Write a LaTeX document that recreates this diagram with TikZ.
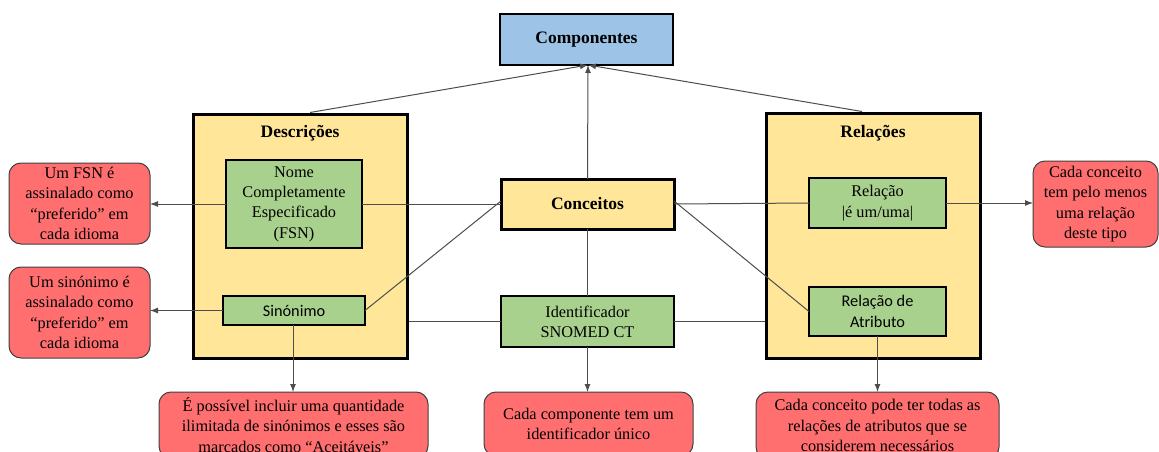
\documentclass[tikz,border=0pt]{standalone}
\usepackage{fontspec}
\setmainfont{Liberation Serif}
\newfontfamily\calibrilike{Carlito}
\usetikzlibrary{arrows.meta}
\definecolor{compblue}{HTML}{9DC3E6}
\definecolor{paleyellow}{HTML}{FFE699}
\definecolor{leafgreen}{HTML}{A9D18E}
\definecolor{notered}{HTML}{FF6F6F}
\definecolor{linkgray}{HTML}{4D4D4D}
\definecolor{noteedge}{HTML}{404040}
\tikzset{
  txt/.style={font=\fontsize{16.3}{20.3}\selectfont, align=center, inner sep=0pt, outer sep=0pt},
  hdr/.style={font=\fontsize{17.5}{21}\selectfont\bfseries, align=center, inner sep=0pt},
  groupbox/.style={draw=black, line width=3pt, fill=paleyellow, inner sep=0pt},
  conceptbox/.style={txt, draw=black, line width=3pt, fill=paleyellow, font=\fontsize{17.5}{21}\selectfont\bfseries},
  topbox/.style={txt, draw=black, line width=2pt, fill=compblue, font=\fontsize{17.5}{21}\selectfont\bfseries},
  leafbox/.style={txt, draw=black, line width=2pt, fill=leafgreen},
  notebox/.style={txt, draw=noteedge, line width=1pt, fill=notered, rounded corners=12pt},
  link/.style={draw=linkgray, line width=1pt},
  arrowlink/.style={link, -{Latex[length=8pt,width=6pt]}, shorten >=0pt},
}
\begin{document}
\begin{tikzpicture}[x=1pt,y=-1pt]
\clip (0,0) rectangle (1159,452);
\fill[white] (0,0) rectangle (1159,452);

% group boxes
\node[groupbox, minimum width=214, minimum height=244] (desc) at (300,236) {};
\node[hdr] (desctitle) at (300,133) {Descrições};
\node[groupbox, minimum width=214, minimum height=245] (rel) at (873,235.5) {};
\node[hdr] (reltitle) at (873,133) {Relações};

% top and central boxes
\node[topbox, minimum width=173, minimum height=51] (comp) at (586.5,39.5) {Componentes};
\node[conceptbox, minimum width=173, minimum height=50] (conc) at (587.5,204) {Conceitos};
\node[leafbox, minimum width=173, minimum height=51] (ident) at (587.5,321.5) {Identificador\\SNOMED CT};

% inner boxes
\node[leafbox, minimum width=136, minimum height=88] (fsn) at (294,204) {Nome\\Completamente\\Especificado\\(FSN)};
\node[leafbox, minimum width=142, minimum height=29, font=\fontsize{16.3}{20.3}\selectfont\calibrilike] (sin) at (294,310.5) {Sinónimo};
\node[leafbox, minimum width=137, minimum height=50] (isa) at (877.5,203) {Relação\\|é um/uma|};
\node[leafbox, minimum width=137, minimum height=49, font=\fontsize{16.3}{20.3}\selectfont\calibrilike] (attr) at (877.5,311.5) {Relação de\\Atributo};

% notes
\node[notebox, minimum width=141, minimum height=81] (nfsn) at (79.5,203.5) {Um FSN é\\assinalado como\\“preferido” em\\cada idioma};
\node[notebox, minimum width=141, minimum height=91] (nsin) at (79.5,312.5) {Um sinónimo é\\assinalado como\\“preferido” em\\cada idioma};
\node[notebox, minimum width=125, minimum height=86] (nisa) at (1095.5,204) {Cada conceito\\tem pelo menos\\uma relação\\deste tipo};
\node[notebox, minimum width=269, minimum height=66] (nsyn) at (293.5,425) {É possível incluir uma quantidade\\ilimitada de sinónimos e esses são\\marcados como “Aceitáveis”};
\node[notebox, minimum width=209, minimum height=64] (nid) at (588.5,424) {Cada componente tem um\\identificador único};
\node[notebox, minimum width=243, minimum height=67] (nattr) at (877.5,425.5) {Cada conceito pode ter todas as\\relações de atributos que se\\considerem necessários};

% links into Componentes
\coordinate (comphub) at (588,65);
\draw[arrowlink] ([xshift=10pt]desc.north) -- (comphub);
\draw[arrowlink] (conc.north) -- (comphub);
\draw[arrowlink] ([xshift=-11pt]rel.north) -- (comphub);

% links around Conceitos
\draw[link] (conc.west) -- (fsn.east);
\draw[link] ([yshift=3pt]conc.west) -- (sin.east);
\draw[link] (conc.east) -- (isa.west);
\draw[link] ([yshift=3pt]conc.east) -- (attr.west);
\draw[link] (conc.south) -- (ident.north);
\draw[link] (ident.west) -- (ident.west -| desc.east);
\draw[link] (ident.east) -- (ident.east -| rel.west);

% links to notes
\draw[arrowlink] (fsn.west) -- (fsn.west -| nfsn.east);
\draw[arrowlink] (sin.west) -- (sin.west -| nsin.east);
\draw[arrowlink] (isa.east) -- (isa.east -| nisa.west);
\draw[arrowlink] ([xshift=-1pt]sin.south) -- ([xshift=-1pt]sin.south |- nsyn.north);
\draw[arrowlink] (ident.south) -- (ident.south |- nid.north);
\draw[arrowlink] (attr.south) -- (attr.south |- nattr.north);
\end{tikzpicture}
\end{document}
